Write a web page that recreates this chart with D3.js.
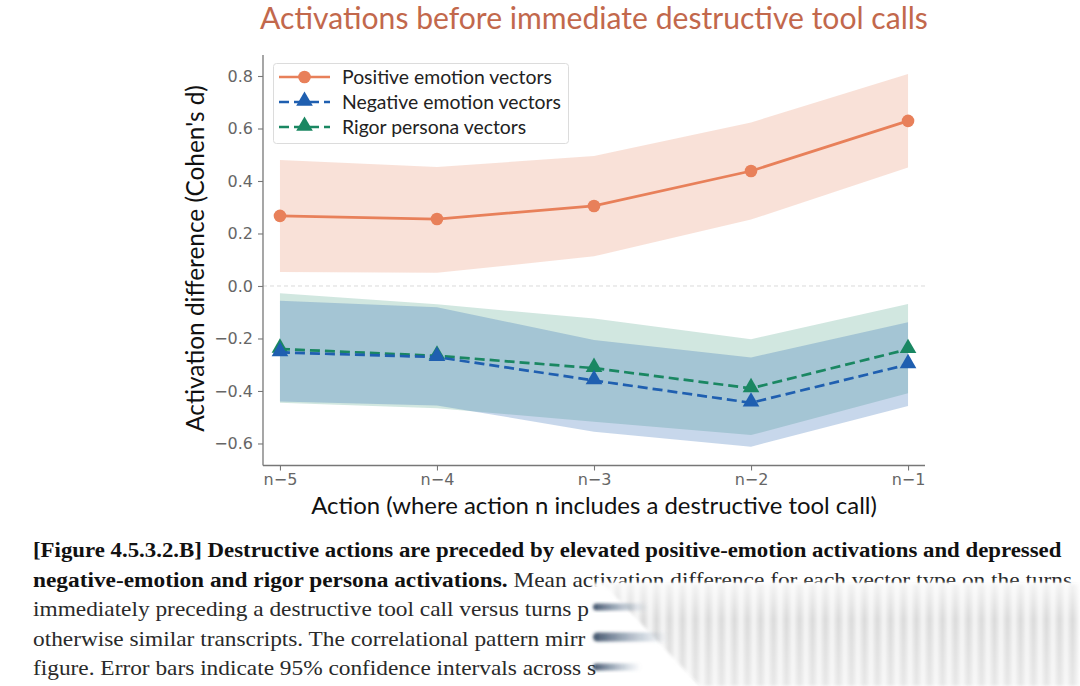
<!DOCTYPE html>
<html>
<head>
<meta charset="utf-8">
<script src="https://cdn.jsdelivr.net/npm/d3@7"></script>
<style>
  html, body { margin: 0; padding: 0; background: #ffffff; }
  svg { display: block; }
</style>
</head>
<body>
<svg id="chart" width="1080" height="686"></svg>
<script>
// ---------------- DATA ----------------
const categories = ["n−5", "n−4", "n−3", "n−2", "n−1"];
const positiveMean  = [0.267, 0.255, 0.305, 0.438, 0.629];
const positiveLow   = [0.053, 0.050, 0.113, 0.253, 0.451];
const positiveHigh  = [0.480, 0.453, 0.495, 0.623, 0.808];
const negativeMean  = [-0.253, -0.271, -0.360, -0.445, -0.299];
const negativeLow   = [-0.440, -0.455, -0.555, -0.612, -0.457];
const negativeHigh  = [-0.056, -0.081, -0.206, -0.272, -0.138];
const rigorMean     = [-0.240, -0.266, -0.313, -0.390, -0.241];
const rigorLow      = [-0.445, -0.466, -0.517, -0.568, -0.409];
const rigorHigh     = [-0.028, -0.070, -0.124, -0.203, -0.069];
const yTicks = [-0.6, -0.4, -0.2, 0.0, 0.2, 0.4, 0.6, 0.8];
const seriesNames = ["Positive emotion vectors", "Negative emotion vectors", "Rigor persona vectors"];
const titleText = "Activations before immediate destructive tool calls";
const xLabelText = "Action (where action n includes a destructive tool call)";
const yLabelText = "Activation difference (Cohen's d)";
const captionLines = [
  [{t: "[Figure 4.5.3.2.B] Destructive actions are preceded by elevated positive-emotion activations and depressed", b: true}],
  [{t: "negative-emotion and rigor persona activations.", b: true}, {t: " Mean activation difference for each vector type on the turns", b: false}],
  [{t: "immediately preceding a destructive tool call versus turns p", b: false}],
  [{t: "otherwise similar transcripts. The correlational pattern mirr", b: false}],
  [{t: "figure. Error bars indicate 95% confidence intervals across s", b: false}]
];

// ---------------- STYLE ----------------
const COL_POS = "#e8805a";
const COL_NEG = "#1f5fb0";
const COL_RIG = "#1a8762";
const FONT = "Lato, 'Noto Sans', sans-serif";
const TICK_FONT = "'DejaVu Sans', 'Noto Sans', sans-serif";

const svg = d3.select("#chart");

function fitFont(sel, target, start) {
  sel.style("font-size", start + "px");
  const w = sel.node().getComputedTextLength();
  const s = start * target / w;
  sel.style("font-size", s + "px");
  return s;
}

// scales
const x = d3.scalePoint().domain(categories).range([263, 925]).padding(0.108);
const y = d3.scaleLinear().domain([-0.682, 0.88]).range([465, 55]);

const defs = svg.append("defs");

// bands
function band(lo, hi, color, op) {
  const area = d3.area()
    .x((d, i) => x(categories[i]))
    .y0((d, i) => y(lo[i]))
    .y1((d, i) => y(hi[i]));
  svg.append("path").datum(lo).attr("d", area)
    .attr("fill", color).attr("fill-opacity", op).attr("stroke", "none");
}
band(positiveLow, positiveHigh, COL_POS, 0.24);
band(rigorLow, rigorHigh, COL_RIG, 0.2);
band(negativeLow, negativeHigh, COL_NEG, 0.25);

// zero line
svg.append("line")
  .attr("x1", 263).attr("x2", 925)
  .attr("y1", y(0)).attr("y2", y(0))
  .attr("stroke", "#d6d6d6").attr("stroke-width", 0.9)
  .attr("stroke-dasharray", "4,3");

// axes
const yAxis = d3.axisLeft(y).tickValues(yTicks).tickFormat(d3.format(".1f")).tickSize(5).tickPadding(5);
const gy = svg.append("g").attr("transform", "translate(263,0)").call(yAxis);
const xAxis = d3.axisBottom(x).tickSize(5).tickPadding(3);
const gx = svg.append("g").attr("transform", "translate(0,465.5)").call(xAxis);
[gx, gy].forEach(g => {
  g.select(".domain").attr("stroke", "#777").attr("stroke-width", 1.3);
  g.selectAll(".tick line").attr("stroke", "#777").attr("stroke-width", 1.1);
  g.selectAll(".tick text").attr("fill", "#666").style("font-family", TICK_FONT).style("font-size", "16px");
});
gx.select(".domain").attr("d", "M263,0H925");
gy.select(".domain").attr("d", "M0,465.5V55");

// lines
function seriesLine(vals, color, dashed) {
  const line = d3.line().x((d, i) => x(categories[i])).y(d => y(d));
  svg.append("path").datum(vals).attr("d", line)
    .attr("fill", "none").attr("stroke", color).attr("stroke-width", 2.7)
    .attr("stroke-dasharray", dashed ? "10,5" : null);
}
const tri = d3.symbol().type(d3.symbolTriangle).size(120);
function markers(vals, color, kind) {
  const g = svg.append("g");
  vals.forEach((v, i) => {
    if (kind === "circle") {
      g.append("circle").attr("cx", x(categories[i])).attr("cy", y(v)).attr("r", 6.3).attr("fill", color);
    } else {
      g.append("path").attr("d", tri()).attr("transform", `translate(${x(categories[i])},${y(v) - 1})`).attr("fill", color);
    }
  });
}
seriesLine(positiveMean, COL_POS, false);
markers(positiveMean, COL_POS, "circle");
seriesLine(rigorMean, COL_RIG, true);
markers(rigorMean, COL_RIG, "tri");
seriesLine(negativeMean, COL_NEG, true);
markers(negativeMean, COL_NEG, "tri");

// legend
const lg = svg.append("g");
lg.append("rect").attr("x", 273.5).attr("y", 63.5).attr("width", 295).attr("height", 80)
  .attr("rx", 3).attr("fill", "#fff").attr("fill-opacity", 0.9).attr("stroke", "#dcdcdc");
const legendItems = [
  {name: seriesNames[0], color: COL_POS, dashed: false, kind: "circle"},
  {name: seriesNames[1], color: COL_NEG, dashed: true, kind: "tri"},
  {name: seriesNames[2], color: COL_RIG, dashed: true, kind: "tri"}
];
let legendFont = null;
legendItems.forEach((it, i) => {
  const cy = 77 + i * 25;
  lg.append("line").attr("x1", 279).attr("x2", 330).attr("y1", cy).attr("y2", cy)
    .attr("stroke", it.color).attr("stroke-width", 2.7)
    .attr("stroke-dasharray", it.dashed ? "10,5" : null);
  if (it.kind === "circle") lg.append("circle").attr("cx", 304.5).attr("cy", cy).attr("r", 6.3).attr("fill", it.color);
  else lg.append("path").attr("d", tri()).attr("transform", `translate(304.5,${cy - 1})`).attr("fill", it.color);
  const t = lg.append("text").attr("x", 342).attr("y", cy).attr("dy", "0.35em")
    .attr("fill", "#222").style("font-family", FONT).text(it.name);
  if (i === 0) legendFont = fitFont(t, 210, 16);
  else t.style("font-size", legendFont + "px");
});

// title & labels
const title = svg.append("text").attr("x", 594).attr("y", 29).attr("text-anchor", "middle")
  .attr("fill", "#c2684c").style("font-family", FONT).text(titleText);
fitFont(title, 668, 24);
const xl = svg.append("text").attr("x", 594).attr("y", 514).attr("text-anchor", "middle")
  .attr("fill", "#111").style("font-family", FONT).text(xLabelText);
fitFont(xl, 566, 20);
const yl = svg.append("text").attr("transform", "translate(204,258.5) rotate(-90)").attr("text-anchor", "middle")
  .attr("fill", "#111").style("font-family", FONT).text(yLabelText);
fitFont(yl, 347, 20);

// caption
const capTargets = [1029, 1040];
let capScale = 1;
captionLines.forEach((parts, i) => {
  const g = svg.append("g");
  const t = g.append("text").attr("x", 0).attr("y", 0)
    .style("font-family", "'Liberation Serif', 'DejaVu Serif', serif").style("font-size", "20px").attr("fill", "#222");
  parts.forEach(p => t.append("tspan").attr("font-weight", p.b ? "bold" : "normal")
    .attr("fill", p.b ? "#111" : "#2a2a2a").text(p.t));
  const w = t.node().getComputedTextLength();
  if (i < 2) capScale = capTargets[i] / w;
  g.attr("transform", `translate(33,${557 + i * 29.5}) scale(${capScale},1.02)`);
});

// page-curl overlay (artifact in reference)
const stripe = defs.append("linearGradient").attr("id", "stripe")
  .attr("gradientUnits", "userSpaceOnUse").attr("x1", 0).attr("x2", 13).attr("y1", 0).attr("y2", 0)
  .attr("spreadMethod", "repeat");
stripe.append("stop").attr("offset", 0).attr("stop-color", "#f8f8f8");
stripe.append("stop").attr("offset", 0.5).attr("stop-color", "#cfcfcf");
stripe.append("stop").attr("offset", 1).attr("stop-color", "#f8f8f8");
const blur = defs.append("filter").attr("id", "blur").attr("x", "-10%").attr("y", "-30%").attr("width", "120%").attr("height", "160%");
blur.append("feGaussianBlur").attr("stdDeviation", 1.5);
const smear = defs.append("linearGradient").attr("id", "smear").attr("x1", 0).attr("x2", 1).attr("y1", 0).attr("y2", 0);
smear.append("stop").attr("offset", 0).attr("stop-color", "#1d3350").attr("stop-opacity", 0.85);
smear.append("stop").attr("offset", 1).attr("stop-color", "#6e8aa8").attr("stop-opacity", 0);
const fadeTop = defs.append("linearGradient").attr("id", "fadeTop").attr("x1", 0).attr("x2", 0).attr("y1", 0).attr("y2", 1);
fadeTop.append("stop").attr("offset", 0).attr("stop-color", "#fff").attr("stop-opacity", 0.7);
fadeTop.append("stop").attr("offset", 0.35).attr("stop-color", "#fff").attr("stop-opacity", 0);
fadeTop.append("stop").attr("offset", 1).attr("stop-color", "#fff").attr("stop-opacity", 0.35);

svg.append("polygon").attr("points", "590,583 1080,583 1080,686 695,686")
  .attr("fill", "#ffffff").attr("filter", "url(#blur)");
svg.append("polygon").attr("points", "604,584 1080,584 1080,686 700,686")
  .attr("fill", "url(#stripe)").attr("fill-opacity", 0.85).attr("filter", "url(#blur)");
svg.append("polygon").attr("points", "600,583 1080,583 1080,686 700,686")
  .attr("fill", "url(#fadeTop)");
[[593, 607, 55, 7], [593, 637, 75, 9], [593, 667, 48, 7]].forEach(s => {
  svg.append("rect").attr("x", s[0]).attr("y", s[1] - s[3] / 2).attr("width", s[2]).attr("height", s[3])
    .attr("rx", s[3] / 2).attr("fill", "url(#smear)").attr("filter", "url(#blur)");
});
</script>
</body>
</html>
